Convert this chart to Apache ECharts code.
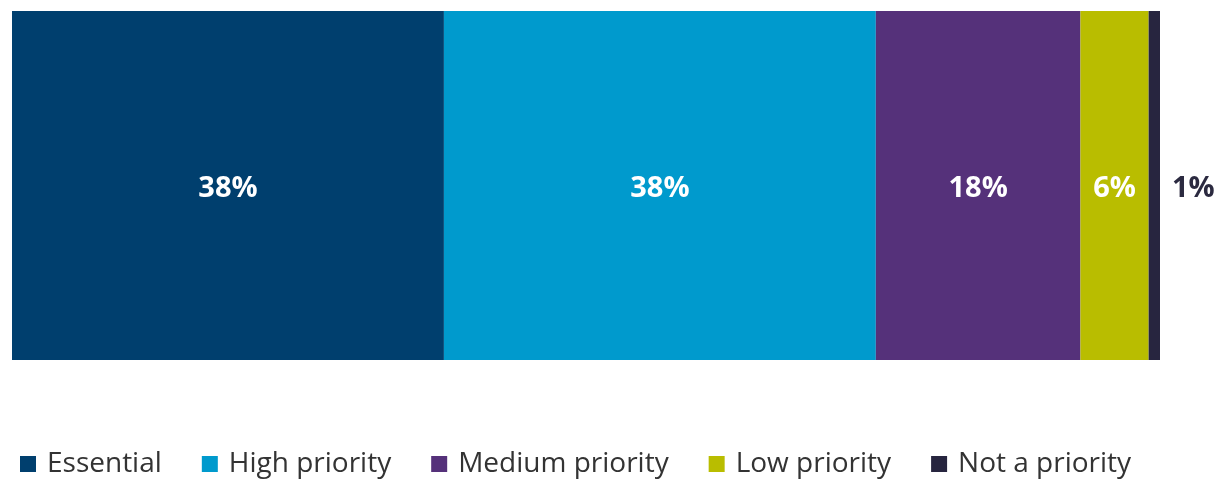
<!DOCTYPE html>
<html>
<head>
<meta charset="utf-8">
<script src="https://cdn.jsdelivr.net/npm/echarts@6/dist/echarts.min.js"></script>
<style>
html,body{margin:0;padding:0;background:#fff;}
#c{width:1219px;height:480px;}
</style>
</head>
<body>
<div id="c"></div>
<script>
var categories = ['All'];
var seriesNames = ['Essential', 'High priority', 'Medium priority', 'Low priority', 'Not a priority'];
var essential = [38];
var highPriority = [38];
var mediumPriority = [18];
var lowPriority = [6];
var notPriority = [1];
var colors = ['#003f6e', '#009acd', '#55317a', '#b9bd00', '#27253f'];

var values = [essential, highPriority, mediumPriority, lowPriority, notPriority];
var total = 0;
values.forEach(function (v) { total += v[0]; });

var chart = echarts.init(document.getElementById('c'));
var series = seriesNames.map(function (name, i) {
  var last = i === seriesNames.length - 1;
  return {
    name: name,
    type: 'bar',
    stack: 'total',
    barWidth: '100%',
    data: values[i],
    itemStyle: { color: colors[i] },
    label: {
      show: true,
      position: last ? 'right' : 'inside',
      distance: 12,
      offset: [0, 3],
      formatter: '{c}%',
      color: last ? '#2b2a40' : '#ffffff',
      fontFamily: 'Open Sans',
      fontWeight: 'bold',
      fontSize: 29
    },
    emphasis: { disabled: true }
  };
});

chart.setOption({
  animation: false,
  color: colors,
  grid: { left: 12, right: 59, top: 11, height: 349, containLabel: false },
  xAxis: {
    type: 'value',
    min: 0,
    max: total,
    show: false
  },
  yAxis: {
    type: 'category',
    data: categories,
    show: false
  },
  legend: {
    left: 20,
    top: 450,
    padding: 0,
    icon: 'rect',
    itemWidth: 16,
    itemHeight: 16,
    itemGap: 40,
    textStyle: {
      fontFamily: 'Open Sans',
      fontSize: 28,
      color: '#333333',
      padding: [0, 0, 0, 6]
    },
    selectedMode: false
  },
  series: series
});
</script>
</body>
</html>
